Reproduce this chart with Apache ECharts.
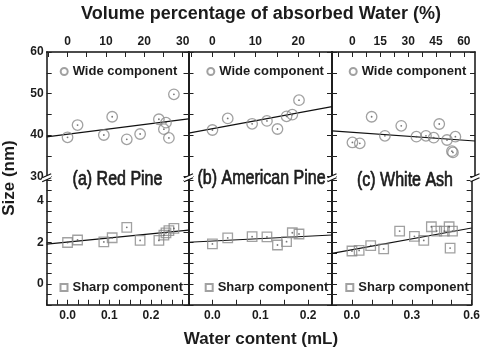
<!DOCTYPE html>
<html><head><meta charset="utf-8">
<script src="https://cdn.jsdelivr.net/npm/echarts@6/dist/echarts.min.js"></script>
<style>html,body{margin:0;padding:0;background:#fff}#c{width:483px;height:348px}</style>
</head><body><div id="c"></div>
<script>
// ---------- data ----------
const panelNames = ['(a) Red Pine', '(b) American Pine', '(c) White Ash'];
const waterA = [0.0, 0.024, 0.087, 0.107, 0.142, 0.174, 0.219, 0.231, 0.236, 0.243, 0.255];
const wideA  = [39.45, 42.4, 40.0, 44.4, 38.96, 40.24, 43.8, 41.4, 42.97, 39.3, 49.8];
const sharpA = [2.0, 2.12, 2.03, 2.23, 2.73, 2.10, 2.10, 2.36, 2.46, 2.57, 2.68];
const waterB = [0.0, 0.032, 0.083, 0.114, 0.136, 0.155, 0.167, 0.181];
const wideB  = [41.2, 44.0, 42.7, 43.4, 41.45, 44.5, 44.9, 48.4];
const sharpB = [1.93, 2.22, 2.28, 2.27, 1.88, 2.04, 2.47, 2.41];
const waterC = [0.0, 0.036, 0.094, 0.159, 0.239, 0.313, 0.36, 0.398, 0.425, 0.463, 0.487, 0.492, 0.504];
const wideC  = [38.2, 38.0, 44.4, 39.8, 42.2, 39.6, 39.8, 39.35, 42.65, 38.8, 36.1, 35.8, 39.6];
const sharpC = [1.59, 1.62, 1.85, 1.69, 2.55, 2.30, 2.10, 2.76, 2.55, 2.55, 2.76, 1.73, 2.55];
// linear fits: [intercept, slope]
const wideFits  = [[40.2, 12.7], [41.5, 21.3], [40.66, -3.5]];
const sharpFits = [[2.02, 2.0], [2.07, 1.17], [1.65, 1.75]];
// tick labels
const bottomTickLabels = [['0.0', '0.1', '0.2'], ['0.0', '0.1', '0.2'], ['0.0', '0.3', '0.6']];
const topTickLabels = [[0, 10, 20, 30], [0, 10, 20], [0, 15, 30, 45, 60]];
const topTickMarks = [[-5, 0, 5, 10, 15, 20, 25, 30], [-5, 0, 5, 10, 15, 20, 25], [-7.5, 0, 7.5, 15, 22.5, 30, 37.5, 45, 52.5, 60]];
const sizeTopLabels = [30, 40, 50, 60];
const sizeBottomLabels = [0, 2, 4];

// ---------- layout ----------
const FONT = '"Liberation Sans", Arial, sans-serif';
const TXT = '#1c1c1c';
const MARK = '#8a8a8a';
const panels = [
  { left: 46.7, width: 141.8, xMin: -0.05, xMax: 0.29, xInt: 0.025, pct: 108.7, water: waterA, wide: wideA, sharp: sharpA },
  { left: 188.5, width: 143.5, xMin: -0.05, xMax: 0.25, xInt: 0.05, pct: 111.5, water: waterB, wide: wideB, sharp: sharpB },
  { left: 332, width: 143, xMin: -0.1, xMax: 0.6, xInt: 0.1, pct: 110, water: waterC, wide: wideC, sharp: sharpC }
];
const TOP = 52, TOPH = 124.5, BOT = 180.25, BOTH = 124.5;

const grid = [], xAxis = [], yAxis = [], series = [], legend = [];
const mkLine = () => ({ show: true, onZero: false, lineStyle: { color: '#111', width: 1.5 } });
const lblStyle = { color: TXT, fontSize: 12, fontWeight: 'bold', fontFamily: FONT };
const mkTick = (len, extra) => Object.assign({ show: true, inside: true, length: len, lineStyle: { color: '#222', width: 1 } }, extra || {});
const mkMinor = (len) => ({ show: true, splitNumber: 2, length: len, lineStyle: { color: '#222', width: 1 } });

panels.forEach((p, i) => {
  grid.push({ left: p.left, top: TOP, width: p.width, height: TOPH });
  grid.push({ left: p.left, top: BOT, width: p.width, height: BOTH });
  // x axes
  xAxis.push({ type: 'value', gridIndex: 2 * i, min: p.xMin, max: p.xMax, show: false });
  xAxis.push({
    type: 'value', gridIndex: 2 * i, position: 'top', min: p.xMin * p.pct, max: p.xMax * p.pct,
    axisLine: mkLine(), splitLine: { show: false },
    axisTick: mkTick(5, { customValues: topTickMarks[i] }),
    axisLabel: { ...lblStyle, margin: 4, customValues: topTickLabels[i], formatter: v => String(v) }
  });
  const labs = bottomTickLabels[i];
  xAxis.push({
    type: 'value', gridIndex: 2 * i + 1, position: 'bottom', min: p.xMin, max: p.xMax, interval: p.xInt,
    axisLine: mkLine(), splitLine: { show: false },
    axisTick: mkTick(5),
    axisLabel: {
      ...lblStyle, margin: 5, showMinLabel: true, showMaxLabel: true,
      formatter: v => { const r = Math.round(v * 1000) / 1000; const s = r.toFixed(1); return (labs.includes(s) && Math.abs(r - parseFloat(s)) < 1e-9) ? s : ''; }
    }
  });
  // y axes
  yAxis.push({
    type: 'value', gridIndex: 2 * i, position: 'left', min: 30, max: 60, interval: 10,
    axisLine: mkLine(), splitLine: { show: false }, axisTick: mkTick(5), minorTick: mkMinor(5),
    axisLabel: { ...lblStyle, show: i === 0, margin: 3, formatter: v => sizeTopLabels.includes(v) ? String(v) : '' }
  });
  yAxis.push({
    type: 'value', gridIndex: 2 * i, position: 'right', min: 30, max: 60, interval: 10,
    axisLine: mkLine(), splitLine: { show: false }, axisTick: mkTick(5), minorTick: mkMinor(5), axisLabel: { show: false }
  });
  yAxis.push({
    type: 'value', gridIndex: 2 * i + 1, position: 'left', min: -1, max: 5, interval: 1,
    axisLine: mkLine(), splitLine: { show: false }, axisTick: mkTick(5), minorTick: mkMinor(5),
    axisLabel: { ...lblStyle, show: i === 0, margin: 3, formatter: v => sizeBottomLabels.includes(v) ? String(v) : '' }
  });
  yAxis.push({
    type: 'value', gridIndex: 2 * i + 1, position: 'right', min: -1, max: 5, interval: 1,
    axisLine: mkLine(), splitLine: { show: false }, axisTick: mkTick(5), minorTick: mkMinor(5), axisLabel: { show: false }
  });

  const wideData = p.water.map((w, k) => [w, p.wide[k]]);
  const sharpData = p.water.map((w, k) => [w, p.sharp[k]]);
  const mk = { color: 'rgba(0,0,0,0)', borderColor: MARK, borderWidth: 1.3 };
  series.push({ name: 'Wide component', type: 'scatter', xAxisIndex: 3 * i, yAxisIndex: 4 * i, symbol: 'circle', symbolSize: 10.5, itemStyle: mk, data: wideData, z: 3 });
  series.push({ name: 'wdot' + i, type: 'scatter', xAxisIndex: 3 * i, yAxisIndex: 4 * i, symbol: 'circle', symbolSize: 1.8, itemStyle: { color: '#555' }, data: wideData, silent: true, z: 4 });
  const wf = wideFits[i];
  series.push({ name: 'wfit' + i, type: 'line', xAxisIndex: 3 * i, yAxisIndex: 4 * i, showSymbol: false, symbol: 'none', silent: true,
    lineStyle: { color: '#111', width: 1.2 }, data: [[p.xMin, wf[0] + wf[1] * p.xMin], [p.xMax, wf[0] + wf[1] * p.xMax]], z: 2 });
  series.push({ name: 'Sharp component', type: 'scatter', xAxisIndex: 3 * i + 2, yAxisIndex: 4 * i + 2, symbol: 'rect', symbolSize: 9.5, itemStyle: mk, data: sharpData, z: 3 });
  series.push({ name: 'sdot' + i, type: 'scatter', xAxisIndex: 3 * i + 2, yAxisIndex: 4 * i + 2, symbol: 'circle', symbolSize: 1.8, itemStyle: { color: '#555' }, data: sharpData, silent: true, z: 4 });
  const sf = sharpFits[i];
  series.push({ name: 'sfit' + i, type: 'line', xAxisIndex: 3 * i + 2, yAxisIndex: 4 * i + 2, showSymbol: false, symbol: 'none', silent: true,
    lineStyle: { color: '#111', width: 1.2 }, data: [[p.xMin, sf[0] + sf[1] * p.xMin], [p.xMax, sf[0] + sf[1] * p.xMax]], z: 2 });
});

const legText = { color: TXT, fontSize: 13, fontWeight: 'bold', fontFamily: FONT };
const wideLegLeft = [59.7, 206.3, 348.7];
const sharpLegLeft = [59.5, 204.7, 345.3];
for (let i = 0; i < 3; i++) {
  legend.push({ data: ['Wide component'], left: wideLegLeft[i], top: 65, padding: 0, itemWidth: 7, itemHeight: 7, itemGap: 0, selectedMode: false, textStyle: legText });
  legend.push({ data: ['Sharp component'], left: sharpLegLeft[i], top: 281, padding: 0, itemWidth: 7, itemHeight: 7, itemGap: 0, selectedMode: false, textStyle: legText });
}

// ---------- graphics: titles, panel labels, axis breaks ----------
const graphic = [];
graphic.push({ type: 'text', x: 261, y: 14, style: { text: 'Volume percentage of absorbed Water (%)', fill: TXT, font: 'bold 18px ' + FONT, textAlign: 'center', textVerticalAlign: 'middle' } });
graphic.push({ type: 'text', x: 261, y: 339.5, style: { text: 'Water content (mL)', fill: TXT, font: 'bold 17px ' + FONT, textAlign: 'center', textVerticalAlign: 'middle' } });
graphic.push({ type: 'text', x: 9, y: 178, rotation: Math.PI / 2, style: { text: 'Size (nm)', fill: TXT, font: 'bold 17px ' + FONT, textAlign: 'center', textVerticalAlign: 'middle' } });
const labelPos = [[117.5, 179.5], [261.5, 178.5], [405, 180]];
panelNames.forEach((t, i) => {
  graphic.push({ type: 'text', x: labelPos[i][0], y: labelPos[i][1], scaleX: 0.8, z: 10, style: { text: t, fill: TXT, stroke: TXT, lineWidth: 0.7, font: '20px ' + FONT, textAlign: 'center', textVerticalAlign: 'middle' } });
});
[46.7, 188.5, 332, 475].forEach(x => {
  graphic.push({ type: 'polygon', z: 20, shape: { points: [[x - 4.5, 177.8], [x + 4.5, 173.8], [x + 4.5, 177.8], [x - 4.5, 181.8]] }, style: { fill: '#fff' } });
  graphic.push({ type: 'line', z: 21, shape: { x1: x - 4.5, y1: 177.8, x2: x + 4.5, y2: 173.8 }, style: { stroke: '#111', lineWidth: 1.2 } });
  graphic.push({ type: 'line', z: 21, shape: { x1: x - 4.5, y1: 181.8, x2: x + 4.5, y2: 177.8 }, style: { stroke: '#111', lineWidth: 1.2 } });
});

const chart = echarts.init(document.getElementById('c'), null, { renderer: 'canvas' });
chart.setOption({ animation: false, backgroundColor: '#fff', grid, xAxis, yAxis, series, legend, graphic });
</script>
</body></html>
